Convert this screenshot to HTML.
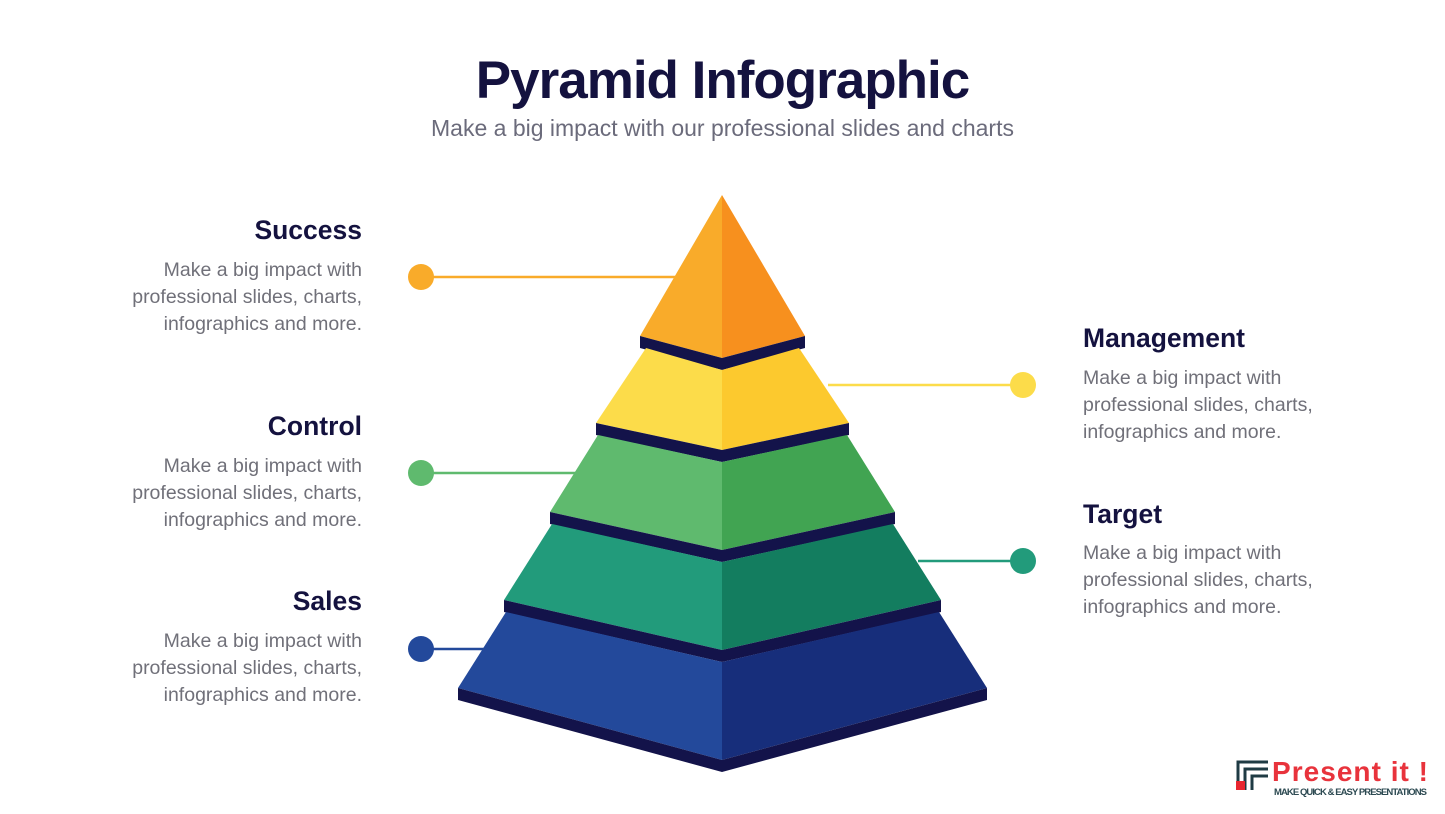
<!DOCTYPE html>
<html><head><meta charset="utf-8"><style>
body{margin:0;width:1445px;height:814px;background:#fff;position:relative;overflow:hidden;font-family:"Liberation Sans",sans-serif}
.t{position:absolute;left:0;width:1445px;text-align:center}
.h{position:absolute;font-weight:bold;font-size:26.5px;color:#14123f;white-space:nowrap}
.b{position:absolute;font-size:19.5px;line-height:27px;color:#707079;white-space:nowrap}
.l{text-align:right;right:1083px}
.r{left:1083px}
</style></head><body>
<div class="t" style="top:50px;font-size:53px;font-weight:bold;color:#14123f;letter-spacing:-1px">Pyramid Infographic</div>
<div class="t" style="top:115px;font-size:23px;color:#6b6b7b">Make a big impact with our professional slides and charts</div>

<div class="h l" style="top:215px">Success</div>
<div class="b l" style="top:257px">Make a big impact with<br>professional slides, charts,<br>infographics and more.</div>
<div class="h l" style="top:411px">Control</div>
<div class="b l" style="top:453px">Make a big impact with<br>professional slides, charts,<br>infographics and more.</div>
<div class="h l" style="top:586px">Sales</div>
<div class="b l" style="top:628px">Make a big impact with<br>professional slides, charts,<br>infographics and more.</div>
<div class="h r" style="top:323px">Management</div>
<div class="b r" style="top:365px">Make a big impact with<br>professional slides, charts,<br>infographics and more.</div>
<div class="h r" style="top:499px">Target</div>
<div class="b r" style="top:540px">Make a big impact with<br>professional slides, charts,<br>infographics and more.</div>

<svg width="1445" height="814" style="position:absolute;left:0;top:0">
<g stroke-width="2.5">
<line x1="421" y1="277" x2="676" y2="277" stroke="#f9ab2a"/>
<line x1="828" y1="385" x2="1023" y2="385" stroke="#fcdc4a"/>
<line x1="421" y1="473" x2="576" y2="473" stroke="#5fba6e"/>
<line x1="918" y1="561" x2="1023" y2="561" stroke="#229b7b"/>
<line x1="421" y1="649" x2="484" y2="649" stroke="#23499b"/>
</g>
<circle cx="421" cy="277" r="13" fill="#f9ab2a"/>
<circle cx="1023" cy="385" r="13" fill="#fcdc4a"/>
<circle cx="421" cy="473" r="13" fill="#5fba6e"/>
<circle cx="1023" cy="561" r="13" fill="#229b7b"/>
<circle cx="421" cy="649" r="13" fill="#23499b"/>

<polygon points="722,195 722,358 640,336" fill="#f9ab2a"/>
<polygon points="722,195 805,336 722,358" fill="#f7901e"/>
<polygon points="640,336 722,358 805,336 805,348 722,370 640,348" fill="#13134a"/>

<polygon points="646,348 722,370 722,450 596,423" fill="#fcdc4a"/>
<polygon points="799,348 849,423 722,450 722,370" fill="#fcc92e"/>
<polygon points="596,423 722,450 849,423 849,435 722,462 596,435" fill="#13134a"/>

<polygon points="598,435 722,462 722,550 550,512" fill="#5fba6e"/>
<polygon points="847,435 895,512 722,550 722,462" fill="#41a452"/>
<polygon points="550,512 722,550 895,512 895,524 722,562 550,524" fill="#13134a"/>

<polygon points="552,524 722,562 722,650 504,600" fill="#229b7b"/>
<polygon points="893,524 941,600 722,650 722,562" fill="#137d5f"/>
<polygon points="504,600 722,650 941,600 941,612 722,662 504,612" fill="#13134a"/>

<polygon points="506,612 722,662 722,760 458,688" fill="#23499b"/>
<polygon points="939,612 987,688 722,760 722,662" fill="#172e7b"/>
<polygon points="458,688 722,760 987,688 987,700 722,772 458,700" fill="#13134a"/>

<g fill="none" stroke="#1f3b44" stroke-width="3">
<path d="M1238 790 V762 H1268"/><path d="M1245 790 V769 H1268"/><path d="M1252 790 V776 H1268"/>
</g>
<rect x="1236" y="781" width="9" height="9" fill="#e8262f"/>
<text x="1272" y="781" font-family="Liberation Sans" font-weight="bold" font-size="28" fill="#e8333c" textLength="156">Present it !</text>
<text x="1274" y="795" font-family="Liberation Sans" font-weight="bold" font-size="9.5" fill="#2d4a52" textLength="153">MAKE QUICK &amp; EASY PRESENTATIONS</text>
</svg>
</body></html>
